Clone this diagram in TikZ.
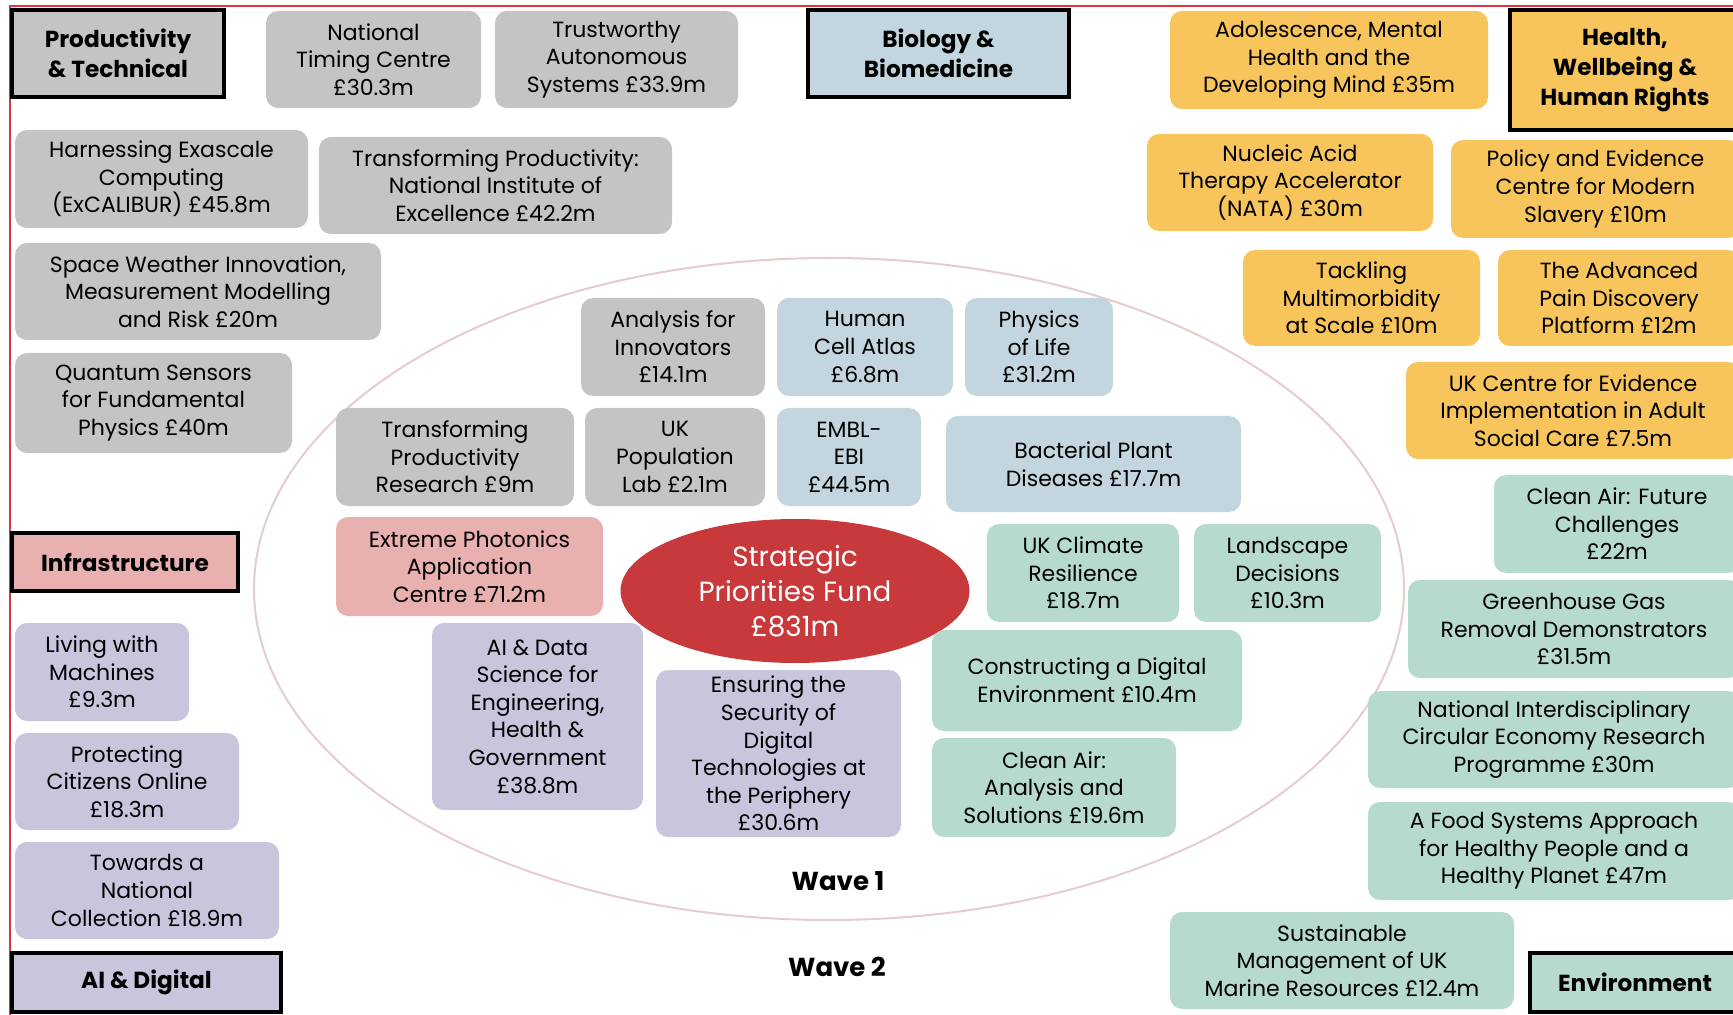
\documentclass[tikz,border=0pt]{standalone}
\usepackage{fontspec}
\setmainfont{Poppins}
\usetikzlibrary{shapes.geometric}

\definecolor{prodgray}{HTML}{C4C4C4}
\definecolor{bioblue}{HTML}{C3D6DF}
\definecolor{healthamber}{HTML}{F7C55B}
\definecolor{infrapink}{HTML}{E9B0B0}
\definecolor{aililac}{HTML}{C9C5DD}
\definecolor{envmint}{HTML}{B7DACF}
\definecolor{spfred}{HTML}{C8393B}
\definecolor{ringpink}{HTML}{E6CCCC}
\definecolor{framered}{HTML}{D9363E}

\tikzset{
  prog/.style={rounded corners=6pt, inner sep=0pt, align=center,
    font=\fontsize{11}{13.8}\selectfont},
  theme/.style={draw=black, line width=2pt, inner sep=0pt, align=center,
    font=\fontsize{11.6}{15}\selectfont\bfseries},
  sz/.style 2 args={minimum width=#1*0.5pt, minimum height=#2*0.5pt}
}

\begin{document}
\begin{tikzpicture}[x=0.5pt,y=-0.5pt]
  \useasboundingbox (0,0) rectangle (1733,1015);
  \clip (0,0) rectangle (1733,1015);
  \draw[framered, line width=1pt] (10,1020) -- (10,6) -- (1740,6);

  % wave 1 ring and centre
  \node[ellipse, draw=ringpink, line width=1pt, minimum width=575pt, minimum height=331pt] (ring) at (829,589) {};
  \node[ellipse, fill=spfred, text=white, inner sep=0pt, minimum width=174.5pt, minimum height=72pt,
        font=\fontsize{13.9}{17.4}\selectfont, align=center] (spf) at (795,591) {Strategic\\Priorities Fund\\£831m};
  \node[font=\fontsize{13}{15}\selectfont\bfseries] (wave1) at (838,881) {Wave 1};
  \node[font=\fontsize{13}{15}\selectfont\bfseries] (wave2) at (837,967) {Wave 2};

  % theme headers
  \node[theme, fill=prodgray, sz={212}{87}]    (prodhdr)   at (118,53.5)   {Productivity\\\& Technical};
  \node[theme, fill=bioblue, sz={261}{87}]     (biohdr)    at (938.5,53.5) {Biology \&\\Biomedicine};
  \node[theme, fill=healthamber, sz={230}{120}] (healthhdr) at (1625,70)   {Health,\\Wellbeing \&\\Human Rights};
  \node[theme, fill=infrapink, sz={226}{58}]   (infrahdr)  at (125,562)    {Infrastructure};
  \node[theme, fill=aililac, sz={269}{59}]     (aihdr)     at (146.5,982.5) {AI \& Digital};
  \node[theme, fill=envmint, sz={210}{59}]     (envhdr)    at (1635,982.5) {Environment};

  % productivity & technical
  \node[prog, fill=prodgray, sz={215}{97}] (ntc)   at (373.5,59.5) {National\\Timing Centre\\£30.3m};
  \node[prog, fill=prodgray, sz={243}{97}] (tas)   at (616.5,59.5) {Trustworthy\\Autonomous\\Systems £33.9m};
  \node[prog, fill=prodgray, sz={293}{98}] (exa)   at (161.5,179)  {Harnessing Exascale\\Computing\\(ExCALIBUR) £45.8m};
  \node[prog, fill=prodgray, sz={353}{97}] (tpnie) at (495.5,185.5) {Transforming Productivity:\\National Institute of\\Excellence £42.2m};
  \node[prog, fill=prodgray, sz={366}{97}] (space) at (198,291.5)  {Space Weather Innovation,\\Measurement Modelling\\and Risk £20m};
  \node[prog, fill=prodgray, sz={277}{100}] (quant) at (153.5,403) {Quantum Sensors\\for Fundamental\\Physics £40m};
  \node[prog, fill=prodgray, sz={184}{98}] (afi)   at (673,347)    {Analysis for\\Innovators\\£14.1m};
  \node[prog, fill=prodgray, sz={238}{98}] (tpr)   at (455,457)    {Transforming\\Productivity\\Research £9m};
  \node[prog, fill=prodgray, sz={180}{98}] (ukpop) at (675,457)    {UK\\Population\\Lab £2.1m};

  % biology & biomedicine
  \node[prog, fill=bioblue, sz={176}{98}] (hca)  at (865,347)    {Human\\Cell Atlas\\£6.8m};
  \node[prog, fill=bioblue, sz={148}{98}] (pol)  at (1039,347)   {Physics\\of Life\\£31.2m};
  \node[prog, fill=bioblue, sz={144}{98}] (embl) at (849,457)    {EMBL-\\EBI\\£44.5m};
  \node[prog, fill=bioblue, sz={295}{96}] (bpd)  at (1093.5,464) {Bacterial Plant\\Diseases £17.7m};

  % infrastructure
  \node[prog, fill=infrapink, sz={267}{99}] (epac) at (469.5,566.5) {Extreme Photonics\\Application\\Centre £71.2m};

  % ai & digital
  \node[prog, fill=aililac, sz={211}{187}] (aids) at (537.5,716.5) {AI \& Data\\Science for\\Engineering,\\Health \&\\Government\\£38.8m};
  \node[prog, fill=aililac, sz={245}{167}] (esdt) at (778.5,753.5) {Ensuring the\\Security of\\Digital\\Technologies at\\the Periphery\\£30.6m};
  \node[prog, fill=aililac, sz={174}{98}]  (lwm)  at (102,672)     {Living with\\Machines\\£9.3m};
  \node[prog, fill=aililac, sz={224}{97}]  (pco)  at (127,781.5)   {Protecting\\Citizens Online\\£18.3m};
  \node[prog, fill=aililac, sz={264}{97}]  (tnc)  at (147,890.5)   {Towards a\\National\\Collection £18.9m};

  % environment
  \node[prog, fill=envmint, sz={192}{98}]  (ukcr) at (1083,573)    {UK Climate\\Resilience\\£18.7m};
  \node[prog, fill=envmint, sz={187}{98}]  (land) at (1287.5,573)  {Landscape\\Decisions\\£10.3m};
  \node[prog, fill=envmint, sz={310}{101}] (cde)  at (1087,680.5)  {Constructing a Digital\\Environment £10.4m};
  \node[prog, fill=envmint, sz={244}{99}]  (caas) at (1054,787.5)  {Clean Air:\\Analysis and\\Solutions £19.6m};
  \node[prog, fill=envmint, sz={246}{98}]  (cafc) at (1617,524)    {Clean Air: Future\\Challenges\\£22m};
  \node[prog, fill=envmint, sz={332}{98}]  (ghg)  at (1574,629)    {Greenhouse Gas\\Removal Demonstrators\\£31.5m};
  \node[prog, fill=envmint, sz={372}{97}]  (nice) at (1554,739.5)  {National Interdisciplinary\\Circular Economy Research\\Programme £30m};
  \node[prog, fill=envmint, sz={372}{98}]  (food) at (1554,851)    {A Food Systems Approach\\for Healthy People and a\\Healthy Planet £47m};
  \node[prog, fill=envmint, sz={344}{97}]  (smm)  at (1342,960.5)  {Sustainable\\Management of UK\\Marine Resources £12.4m};

  % health, wellbeing & human rights
  \node[prog, fill=healthamber, sz={318}{98}] (amh)  at (1329,60)    {Adolescence, Mental\\Health and the\\Developing Mind £35m};
  \node[prog, fill=healthamber, sz={286}{97}] (nata) at (1290,182.5) {Nucleic Acid\\Therapy Accelerator\\(NATA) £30m};
  \node[prog, fill=healthamber, sz={289}{98}] (pec)  at (1595.5,189) {Policy and Evidence\\Centre for Modern\\Slavery £10m};
  \node[prog, fill=healthamber, sz={237}{96}] (tms)  at (1361.5,298) {Tackling\\Multimorbidity\\at Scale £10m};
  \node[prog, fill=healthamber, sz={242}{96}] (apd)  at (1619,298)   {The Advanced\\Pain Discovery\\Platform £12m};
  \node[prog, fill=healthamber, sz={334}{97}] (ukce) at (1573,410.5) {UK Centre for Evidence\\Implementation in Adult\\Social Care £7.5m};
\end{tikzpicture}
\end{document}
